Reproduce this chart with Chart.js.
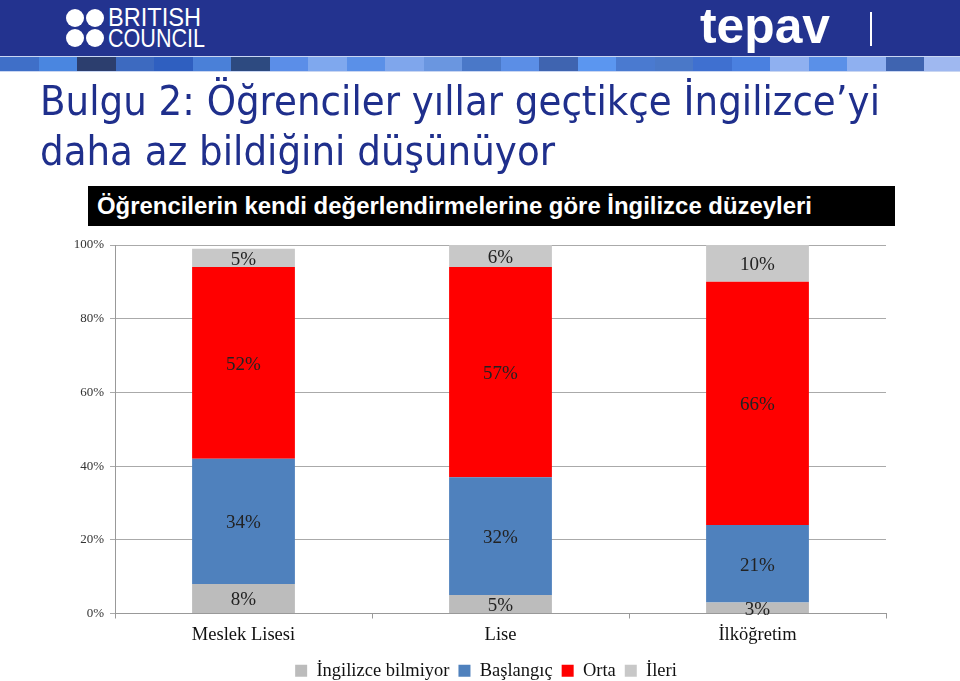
<!DOCTYPE html>
<html>
<head>
<meta charset="utf-8">
<script src="https://cdn.jsdelivr.net/npm/chart.js@4.4.1/dist/chart.umd.min.js"></script>
<style>
  html,body{margin:0;padding:0;background:#fff;}
  body{width:960px;height:681px;position:relative;overflow:hidden;}
  #c{position:absolute;left:0;top:0;}
  .abs{position:absolute;white-space:nowrap;}
  #hdr{position:absolute;left:0;top:0;width:960px;height:56px;background:#23338f;}
  #stripe{position:absolute;left:0;top:56px;width:960px;height:16px;background:#c9d6f2;}
  .blk{position:absolute;top:1px;height:14px;}
  .dot{position:absolute;width:18px;height:18px;border-radius:50%;background:#fff;}
  .fit{display:inline-block;transform-origin:0 0;}
</style>
</head>
<body>
<canvas id="c" width="960" height="690"></canvas>

<div id="hdr">
  <div class="dot" style="left:66px;top:9px"></div>
  <div class="dot" style="left:86px;top:9px"></div>
  <div class="dot" style="left:66px;top:29px"></div>
  <div class="dot" style="left:86px;top:29px"></div>
  <div class="abs" style="left:108px;top:7px;color:#fff;font:26px 'Liberation Sans Narrow','Liberation Sans',sans-serif;line-height:21px;"><span class="fit" data-w="93">BRITISH</span><br><span class="fit" data-w="97">COUNCIL</span></div>
  <div class="abs" style="left:700px;top:0px;color:#fff;font:bold 50px 'Liberation Sans',sans-serif;line-height:52px;"><span class="fit" data-w="130">tepav</span></div>
  <div class="abs" style="left:870px;top:12px;width:2px;height:34px;background:#fff;"></div>
</div>
<div id="stripe"></div>

<div class="abs" style="left:40px;top:76px;color:#1f2f8c;font:40px 'DejaVu Sans',sans-serif;line-height:50px;">
  <span class="fit" data-w="840">Bulgu 2: Öğrenciler yıllar geçtikçe İngilizce’yi</span><br>
  <span class="fit" data-w="515">daha az bildiğini düşünüyor</span>
</div>

<div class="abs" style="left:88px;top:186px;width:807px;height:40px;background:#000;">
  <div class="abs" style="left:9px;top:6px;color:#fff;font:bold 24px 'Liberation Sans Narrow','Liberation Sans',sans-serif;line-height:28px;"><span class="fit" data-w="715">Öğrencilerin kendi değerlendirmelerine göre İngilizce düzeyleri</span></div>
</div>

<script>
// ---- data ----
const categories = ['Meslek Lisesi', 'Lise', 'İlköğretim'];
const seriesNames = ['İngilizce bilmiyor', 'Başlangıç', 'Orta', 'İleri'];
const bilmiyor  = [8, 5, 3];
const baslangic = [34, 32, 21];
const orta      = [52, 57, 66];
const ileri     = [5, 6, 10];
const yTicks    = [0, 20, 40, 60, 80, 100];

// ---- header stripe blocks ----
const stripeColors = ['#3f6fc8','#4a86e0','#2c3e6e','#3d6ac0','#2f5fc0','#4a80d8','#2d4a80','#5b8ee8','#7fa8ee','#5a90e8','#7fa6ec','#6a96e0','#4a78c8','#5b8ee6','#3f64b0','#5b96f0','#4a7ad0','#4a78c8','#3f70d0','#4a80e0','#8fb0f0','#5a90e8','#8fb0f0','#3f64b0','#9fb8f0'];
const stripe = document.getElementById('stripe');
stripeColors.forEach((col, i) => {
  const d = document.createElement('div');
  d.className = 'blk';
  d.style.left = (i * 38.5) + 'px';
  d.style.width = '39px';
  d.style.background = col;
  stripe.appendChild(d);
});

// ---- fit texts to measured widths ----
document.querySelectorAll('.fit').forEach(el => {
  const target = +el.dataset.w;
  const w = el.getBoundingClientRect().width;
  if (w > 0) el.style.transform = 'scaleX(' + (target / w) + ')';
});

// ---- chart ----
const serif = '"Liberation Serif", "Times New Roman", serif';
const colors = ['#bcbcbc', '#4f81bd', '#ff0000', '#c8c8c8'];
const valueSets = [bilmiyor, baslangic, orta, ileri];

const labelPlugin = {
  id: 'segLabels',
  afterDatasetsDraw(chart) {
    const ctx = chart.ctx;
    ctx.save();
    ctx.font = '19px ' + serif;
    ctx.fillStyle = '#222';
    ctx.textAlign = 'center';
    ctx.textBaseline = 'middle';
    chart.data.datasets.forEach((ds, di) => {
      const meta = chart.getDatasetMeta(di);
      meta.data.forEach((bar, i) => {
        const y = (bar.y + bar.base) / 2;
        ctx.fillText(ds.data[i] + '%', bar.x, y + 2);
      });
    });
    ctx.restore();
  }
};

const legendShift = {
  id: 'legendShift',
  afterLayout(chart) {
    if (chart.legend) { chart.legend.left += 6; chart.legend.right += 6; }
  }
};

new Chart(document.getElementById('c'), {
  type: 'bar',
  data: {
    labels: categories,
    datasets: seriesNames.map((n, i) => ({
      label: n,
      data: valueSets[i],
      backgroundColor: colors[i],
      borderWidth: 0,
      categoryPercentage: 1.0,
      barPercentage: 0.4
    }))
  },
  options: {
    responsive: false,
    animation: false,
    devicePixelRatio: 1,
    layout: { padding: { left: 74, right: 74, top: 245, bottom: 0 } },
    plugins: {
      tooltip: { enabled: false },
      legend: {
        position: 'bottom',
        labels: {
          boxWidth: 12, boxHeight: 12, padding: 9,
          color: '#111',
          font: { family: serif, size: 18.5 }
        }
      }
    },
    scales: {
      x: {
        stacked: true,
        afterFit: s => { s.height = 39; },
        grid: { display: true, drawOnChartArea: false, drawTicks: true, tickLength: 5, offset: true, color: '#999' },
        border: { color: '#999' },
        ticks: { color: '#111', padding: 6, font: { family: serif, size: 18.5 } }
      },
      y: {
        stacked: true,
        min: 0, max: 100,
        afterFit: s => { s.width = 41; },
        afterBuildTicks: s => { s.ticks = yTicks.map(v => ({ value: v })); },
        grid: { color: '#aaaaaa', tickLength: 5 },
        border: { color: '#999' },
        ticks: {
          color: '#333', padding: 6,
          font: { family: serif, size: 13 },
          callback: v => v + '%'
        }
      }
    }
  },
  plugins: [labelPlugin, legendShift]
});
</script>
</body>
</html>
